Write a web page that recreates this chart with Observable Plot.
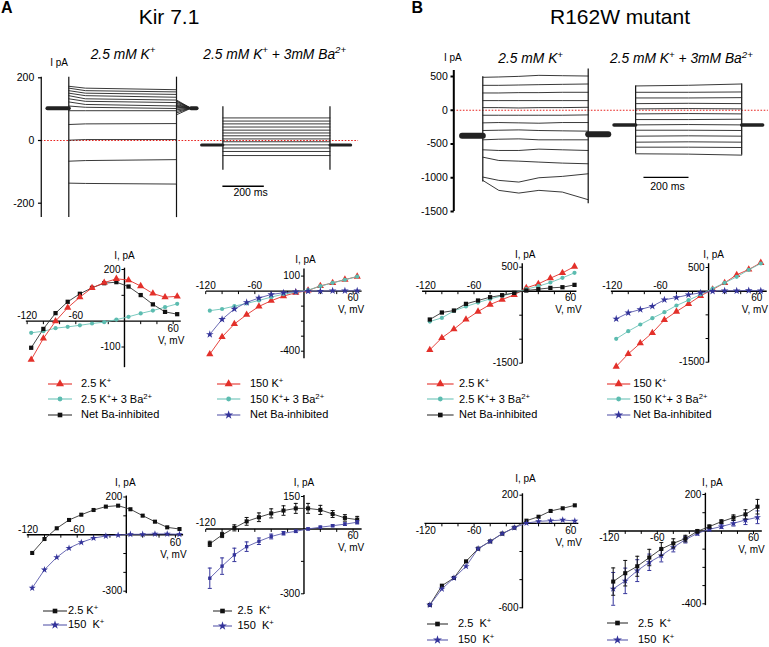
<!DOCTYPE html>
<html><head><meta charset="utf-8">
<script src="https://cdn.jsdelivr.net/npm/d3@7"></script>
<script src="https://cdn.jsdelivr.net/npm/@observablehq/plot@0.6"></script>
<style>
html,body{margin:0;padding:0;background:#fff;}
#fig{position:relative;width:769px;height:647px;overflow:hidden;font-family:"Liberation Sans",Arial,sans-serif;color:#000;background:#fff;}
#fig svg.layer{position:absolute;left:0;top:0;background:transparent !important;overflow:visible;}
.t{position:absolute;white-space:nowrap;line-height:1;}
.t sup{font-size:0.7em;vertical-align:0;position:relative;top:-0.55em;}
</style></head><body><div id="fig"></div>
<script>
// ---------------- DATA ----------------
const V = [-115, -100, -85, -70, -55, -40, -25, -10, 5, 20, 35, 50, 65]; // mV

// A, middle-left (2.5 mM K+)
const aK25    = [-149, -67, 0, 52, 93, 129, 149, 164, 159, 136, 107, 93, 96];
const aK25Ba  = [-45, -39, -27, -22, -16, -9, -4, 6, 17, 30, 41, 54, 67];
const aK25Net = [-103, -30, 31, 75, 106, 129, 147, 151, 134, 101, 65, 36, 27];
// A, middle-right (150 mM K+)
const aK150    = [-420, -305, -219, -157, -102, -64, -33, -11, 4, 35, 55, 77, 97];
const aK150Ba  = [-130, -119, -100, -82, -62, -40, -20, -7, 7, 33, 55, 75, 97];
const aK150Net = [-288, -188, -119, -75, -46, -22, -11, -4, 0, 0, 2, 2, 2];
// B, middle-left
const bK25    = [-1222, -972, -792, -590, -424, -278, -174, -76, 69, 153, 271, 382, 514];
const bK25Ba  = [-632, -556, -410, -319, -236, -160, -97, -35, 42, 104, 181, 278, 382];
const bK25Net = [-590, -444, -403, -264, -194, -125, -83, -35, 14, 42, 69, 83, 132];
// B, middle-right
const bK150    = [-1592, -1324, -1099, -880, -606, -430, -268, -99, 35, 176, 345, 458, 599];
const bK150Ba  = [-1007, -845, -704, -570, -444, -303, -190, -70, 56, 176, 303, 451, 585];
const bK150Net = [-585, -458, -387, -317, -183, -134, -77, -35, 0, 7, 7, 14, 7];
// A, bottom-left (single cell)
const aCmp25  = [-97, -23, 34, 78, 106, 131, 149, 154, 135, 101, 69, 39, 30];
const aCmp150 = [-283, -186, -120, -71, -41, -18, -7, -2, 2, 2, 4, 4, 2];
// A, bottom-right (mean ± SEM)
const aMean25  = [-69, -28, 5, 35, 54, 72, 85, 95, 95, 88, 69, 51, 43];
const aSem25   = [12, 12, 14, 18, 20, 21, 22, 23, 23, 21, 16, 15, 15];
const aMean150 = [-228, -172, -120, -82, -57, -35, -20, -11, 0, 8, 15, 22, 31];
const aSem150  = [47, 38, 31, 22, 15, 11, 8, 6, 5, 5, 5, 6, 8];
// B, bottom-left
const bCmp25  = [-580, -443, -388, -270, -180, -128, -73, -31, 19, 47, 88, 107, 128];
const bCmp150 = [-580, -466, -388, -305, -180, -128, -73, -31, 2, 14, 19, 24, 17];
// B, bottom-right (mean ± SEM)
const bMean25  = [-278, -232, -194, -146, -99, -68, -42, -2, 24, 51, 73, 91, 133];
const bSem25   = [75, 70, 55, 45, 35, 25, 18, 10, 8, 10, 15, 25, 40];
const bMean150 = [-318, -274, -218, -172, -135, -90, -48, -13, 9, 24, 42, 60, 75];
const bSem150  = [90, 70, 60, 45, 35, 25, 18, 10, 8, 10, 15, 25, 35];

// Current traces, Kir 7.1 (pA); times in ms
const a1Times = [0, 80, 520];
const a1Start = [173, 167, 159, 151, 143, 133, 123, 110, 95, 51, 1, -66, -136];
const a1Mid   = [167, 159, 151, 143, 133, 125, 115, 106, 95, 53, 3, -64, -137];
const a1End   = [162, 155, 147, 138, 129, 121, 110, 102, 95, 54, 3, -61, -139];
const a1TailTimes = [520, 590];
const a1Tail  = [129, 126, 123, 119, 115, 112, 109, 106, 103, 98, 93, 88, 82];
const a1Hold  = 103;
const a2Times = [0, 517];
const a2Level = [72, 62, 53, 43, 33, 24, 15, 5, -4, -14, -24, -35, -48];
const a2Hold  = -14;
// Current traces, R162W (pA)
const b1Times = [0, 71, 160, 249, 353, 468];
const b1Sweeps = [
  [488, 493, 502, 517, 512, 507],
  [369, 369, 374, 379, 384, 389],
  [256, 256, 261, 261, 266, 266],
  [143, 143, 143, 143, 143, 143],
  [39, 39, 34, 39, 39, 44],
  [-74, -74, -74, -74, -74, -69],
  [-187, -182, -187, -192, -182, -182],
  [-300, -296, -291, -300, -305, -310],
  [-438, -429, -424, -438, -438, -438],
  [-586, -596, -596, -576, -586, -596],
  [-695, -744, -754, -768, -783, -793],
  [-990, -1039, -1064, -1000, -980, -941],
  [-1039, -1187, -1227, -1187, -1212, -1325]
];
const b1HoldPre = -378, b1HoldPost = -355;
const b2Times = [0, 235, 471];
const b2Start = [360, 266, 182, 98, 20, -54, -138, -217, -296, -384, -473, -547, -645];
const b2Mid   = [370, 266, 182, 103, 25, -49, -138, -212, -296, -379, -468, -547, -650];
const b2End   = [389, 271, 187, 98, 20, -54, -133, -217, -300, -384, -473, -552, -665];
const b2Hold  = -217;

// ---------------- STYLE / LAYOUT ----------------
const W = 769, H = 647;
const FONT = '"Liberation Sans", Arial, sans-serif';
const TICK_FS = 10;
const RED = "#e3302a", TEAL = "#5cbcb0", BLACK = "#111111", BLUE = "#33339a";
const LINE = {[RED]: "#e3302a", [TEAL]: "#6cc4b8", [BLACK]: "#333333", [BLUE]: "#5a5aac"};
const fig = document.getElementById("fig");

const tickDown = {draw(c, s) {const l = Math.sqrt(s / Math.PI); c.moveTo(0, 0); c.lineTo(0, l);}};
const tickLeft = {draw(c, s) {const l = Math.sqrt(s / Math.PI); c.moveTo(0, 0); c.lineTo(-l, 0);}};
const capH = {draw(c, s) {const l = Math.sqrt(s / Math.PI); c.moveTo(-l, 0); c.lineTo(l, 0);}};

function layer(opts) {
  const svg = Plot.plot({
    width: W, height: H, margin: 0,
    style: {background: "transparent", overflow: "visible", fontFamily: FONT, fontSize: "10px"},
    ...opts
  });
  svg.classList.add("layer");
  svg.style.background = "transparent";
  fig.appendChild(svg);
}

function label(html, x, baseline, size, o = {}) {
  const d = document.createElement("div");
  d.className = "t";
  d.innerHTML = html;
  d.style.fontSize = size + "px";
  d.style.left = x + "px";
  d.style.top = (baseline - 0.847 * size) + "px";
  if (o.center) d.style.transform = "translateX(-50%)";
  if (o.bold) d.style.fontWeight = "bold";
  if (o.italic) d.style.fontStyle = "italic";
  fig.appendChild(d);
}

const X_TICKS = [-120, -100, -80, -60, -40, -20, 20, 40, 60];

function ivPanel(p) {
  const below = p.belowDy ?? 11;
  const marks = [
    Plot.ruleY([0], {x1: p.xLine[0], x2: p.xLine[1], stroke: "#000", strokeWidth: 1.4}),
    Plot.ruleX([0], {y1: p.yLine[0], y2: p.yLine[1], stroke: "#000", strokeWidth: 1.4}),
    Plot.dot(X_TICKS, {x: d => d, y: 0, symbol: tickDown, r: 3, stroke: "#000", fill: "none", strokeWidth: 1}),
    Plot.dot(p.yTicks, {x: 0, y: d => d, symbol: tickLeft, r: 3, stroke: "#000", fill: "none", strokeWidth: 1}),
    Plot.text(p.xAbove, {x: d => d, y: 0, text: d => String(d), dy: p.aboveDy ?? -2, lineAnchor: "bottom", fontSize: TICK_FS}),
    Plot.text(p.xBelow, {x: d => d, y: 0, text: d => String(d), dy: below, lineAnchor: "bottom", fontSize: TICK_FS}),
    Plot.text(p.yLabels, {x: 0, y: d => d, text: d => String(d), dx: -4, textAnchor: "end", fontSize: TICK_FS}),
    Plot.text(["I, pA"], {x: 0, y: p.yLine[1], text: d => d, dx: p.iDx, dy: p.iDy, lineAnchor: "bottom", fontSize: TICK_FS}),
    Plot.text(["V, mV"], {x: 60, y: 0, text: d => d, dx: -2, dy: below + 12, lineAnchor: "bottom", fontSize: TICK_FS})
  ];
  for (const s of p.series) {
    const data = V.map((v, i) => ({v, i: s.y[i], e: s.err ? s.err[i] : 0}));
    if (s.err) {
      marks.push(Plot.ruleX(data, {x: "v", y1: d => d.i - d.e, y2: d => d.i + d.e, stroke: s.c, strokeWidth: 1}));
      marks.push(Plot.dot(data, {x: "v", y: d => d.i - d.e, symbol: capH, r: 2, stroke: s.c, fill: "none", strokeWidth: 1}));
      marks.push(Plot.dot(data, {x: "v", y: d => d.i + d.e, symbol: capH, r: 2, stroke: s.c, fill: "none", strokeWidth: 1}));
    }
    marks.push(Plot.line(data, {x: "v", y: "i", stroke: LINE[s.c], strokeWidth: 0.9}));
    marks.push(Plot.dot(data, {x: "v", y: "i", symbol: s.s, r: s.r, fill: s.c, stroke: "none"}));
  }
  layer({
    x: {domain: [V[0], V[V.length - 1]], range: p.xr, axis: null},
    y: {domain: p.yd, range: p.yr, axis: null},
    marks
  });
}

const panels = [
  {xr: [30.7, 176.7], yd: [-100, 200], yr: [346.5, 269], xLine: [-121, 70], yLine: [-180, 205],
   yTicks: [200, 100, -100], yLabels: [200, -100], xAbove: [-120, -60], xBelow: [60], iDx: 0, iDy: -9.5,
   series: [{y: aK25Ba, c: TEAL, s: "circle", r: 2.1}, {y: aK25Net, c: BLACK, s: "square", r: 2.4}, {y: aK25, c: RED, s: "triangle", r: 2.7}]},
  {xr: [209.3, 356.7], yd: [-400, 100], yr: [350.7, 275.6], xLine: [-119, 71], yLine: [-450, 148],
   yTicks: [100, -100, -200, -300, -400], yLabels: [100, -400], xAbove: [-120, -60], xBelow: [60], iDx: 1.5, iDy: -6, belowDy: 10,
   series: [{y: aK150, c: RED, s: "triangle", r: 2.7}, {y: aK150Ba, c: TEAL, s: "circle", r: 2.1}, {y: aK150Net, c: BLUE, s: "star", r: 2.4}]},
  {xr: [429.3, 574], yd: [-1500, 500], yr: [362.7, 266.7], xLine: [-124, 68], yLine: [-1510, 570],
   yTicks: [500, -500, -1000, -1500], yLabels: [500, -1500], xAbove: [-120, -60], xBelow: [60], iDx: 3, iDy: -6, belowDy: 10,
   series: [{y: bK25, c: RED, s: "triangle", r: 2.7}, {y: bK25Ba, c: TEAL, s: "circle", r: 2.1}, {y: bK25Net, c: BLACK, s: "square", r: 2.4}]},
  {xr: [615.7, 760.3], yd: [-1500, 500], yr: [361.7, 267], xLine: [-121, 73], yLine: [-1514, 580],
   yTicks: [500, -500, -1000, -1500], yLabels: [500, -1500], xAbove: [-120, -60], xBelow: [60], iDx: 5, iDy: -6, belowDy: 10,
   series: [{y: bK150, c: RED, s: "triangle", r: 2.7}, {y: bK150Ba, c: TEAL, s: "circle", r: 2.1}, {y: bK150Net, c: BLUE, s: "star", r: 2.4}]},
  {xr: [31.7, 179], yd: [-300, 200], yr: [590.7, 496.5], xLine: [-121, 70], yLine: [-313, 205],
   yTicks: [200, 100, -100, -200, -300], yLabels: [200, -300], xAbove: [-120, -60], xBelow: [60], iDx: -1, iDy: -10,
   series: [{y: aCmp25, c: BLACK, s: "square", r: 2.3}, {y: aCmp150, c: BLUE, s: "star", r: 2.2}]},
  {xr: [209.3, 356.7], yd: [-300, 150], yr: [593.3, 496], xLine: [-119, 71], yLine: [-303, 155],
   yTicks: [150, -150, -300], yLabels: [150, -300], xAbove: [-120], xBelow: [60], iDx: 0, iDy: -9, aboveDy: -3, belowDy: 10,
   series: [{y: aMean25, err: aSem25, c: BLACK, s: "square", r: 2.3}, {y: aMean150, err: aSem150, c: BLUE, s: "square", r: 1.9}]},
  {xr: [429.3, 574.3], yd: [-600, 200], yr: [607.3, 494.7], xLine: [-121, 70], yLine: [-607, 210],
   yTicks: [200, -200, -400, -600], yLabels: [200, -600], xAbove: [], xBelow: [-120, -60, 60], iDx: 3, iDy: -12, belowDy: 11,
   series: [{y: bCmp25, c: BLACK, s: "square", r: 2.3}, {y: bCmp150, c: BLUE, s: "star", r: 2.2}]},
  {xr: [612.7, 757], yd: [-400, 200], yr: [603.3, 494], xLine: [-120, 71], yLine: [-410, 207],
   yTicks: [200, 100, -100, -200, -300, -400], yLabels: [200, -400], xAbove: [], xBelow: [-120, -60, 60], iDx: 7, iDy: -7, belowDy: 10.5,
   series: [{y: bMean150, err: bSem150, c: BLUE, s: "star", r: 2.2}, {y: bMean25, err: bSem25, c: BLACK, s: "square", r: 2.3}]}
];
panels.forEach(ivPanel);

// ---------------- TRACES ----------------
function tracePanel(t) {
  const marks = [
    Plot.ruleY([0], {x1: t.zero[0], x2: t.zero[1], stroke: "#e8231f", strokeWidth: 1, strokeDasharray: "1.6,1.6"}),
    Plot.ruleX([t.axisT], {y1: t.axisY[0], y2: t.axisY[1], stroke: "#000", strokeWidth: t.axisW}),
    Plot.dot(t.ticks, {x: t.axisT, y: d => d, symbol: tickLeft, r: 3.3, stroke: "#000", fill: "none", strokeWidth: t.axisW}),
    Plot.text(t.ticks, {x: t.axisT, y: d => d, text: d => String(d), dx: t.labDx, textAnchor: "end", fontSize: 10.5}),
    Plot.text(["I pA"], {x: t.axisT, y: t.axisY[1], text: d => d, dx: t.ipDx, dy: t.ipDy, textAnchor: t.ipAnchor, lineAnchor: "bottom", fontSize: 10}),
    Plot.ruleY([t.bar.y], {x1: t.bar.t[0], x2: t.bar.t[1], stroke: "#000", strokeWidth: 1.3}),
    Plot.text(["200 ms"], {x: (t.bar.t[0] + t.bar.t[1]) / 2, y: t.bar.y, text: d => d, dx: t.bar.dx, dy: t.bar.dy, lineAnchor: "bottom", fontSize: 10.5}),
    Plot.ruleX(t.transients, {x: "t", y1: "lo", y2: "hi", stroke: "#111", strokeWidth: 1.2}),
    Plot.line(t.sweeps, {x: "t", y: "i", z: "k", stroke: "#222", strokeWidth: 0.9}),
    Plot.line(t.holds, {x: "t", y: "i", z: "k", stroke: "#222", strokeWidth: "w"})
  ];
  layer({
    x: {domain: t.xd, range: t.xr, axis: null},
    y: {domain: t.yd, range: t.yr, axis: null},
    marks
  });
}

// Kir 7.1 traces
{
  const off = 744;
  const sweeps = [], holds = [];
  a1Start.forEach((_, k) => {
    const lv = [a1Start[k], a1Mid[k], a1End[k]];
    a1Times.forEach((tt, j) => sweeps.push({k: "a1-" + k, t: tt, i: lv[j]}));
    sweeps.push({k: "a1-" + k, t: a1TailTimes[0], i: a1Tail[k]});
    sweeps.push({k: "a1-" + k, t: a1TailTimes[1], i: a1Hold});
  });
  a2Level.forEach((lv, k) => a2Times.forEach(tt => sweeps.push({k: "a2-" + k, t: off + tt, i: lv})));
  holds.push({k: "h1", t: -103, i: a1Hold, w: 4}, {k: "h1", t: 0, i: a1Hold, w: 4});
  holds.push({k: "h2", t: 590, i: a1Hold, w: 4}, {k: "h2", t: 617, i: a1Hold, w: 4});
  holds.push({k: "h3", t: off - 103, i: a2Hold, w: 3}, {k: "h3", t: off, i: a2Hold, w: 3});
  holds.push({k: "h4", t: off + 517, i: a2Hold, w: 3}, {k: "h4", t: off + 617, i: a2Hold, w: 3});
  tracePanel({
    xd: [0, 520], xr: [68.3, 176], yd: [-200, 200], yr: [202.7, 77.3],
    zero: [-133, 1399], axisT: -133, axisY: [-246, 202], axisW: 1.2,
    ticks: [200, 0, -200], labDx: -7,
    ipDx: 9, ipDy: -11.5, ipAnchor: "start",
    bar: {t: [off, off + 200], y: -146, dx: 7, dy: 10},
    transients: [{t: 0, lo: -246, hi: 202}, {t: 520, lo: -246, hi: 202}, {t: off, lo: -95, hi: 108}, {t: off + 517, lo: -95, hi: 108}],
    sweeps, holds
  });
}
// R162W traces
{
  const off = 678.6;
  const sweeps = [], holds = [];
  b1Sweeps.forEach((row, k) => b1Times.forEach((tt, j) => sweeps.push({k: "b1-" + k, t: tt, i: row[j]})));
  b2Start.forEach((_, k) => {
    const lv = [b2Start[k], b2Mid[k], b2End[k]];
    b2Times.forEach((tt, j) => sweeps.push({k: "b2-" + k, t: off + tt, i: lv[j]}));
  });
  holds.push({k: "h1", t: -92, i: b1HoldPre, w: 6}, {k: "h1", t: 0, i: b1HoldPre, w: 6});
  holds.push({k: "h2", t: 468, i: b1HoldPost, w: 6}, {k: "h2", t: 557, i: b1HoldPost, w: 6});
  holds.push({k: "h3", t: off - 96, i: b2Hold, w: 3.5}, {k: "h3", t: off, i: b2Hold, w: 3.5});
  holds.push({k: "h4", t: off + 471, i: b2Hold, w: 3.5}, {k: "h4", t: off + 564, i: b2Hold, w: 3.5});
  tracePanel({
    xd: [0, 468], xr: [482.3, 587.7], yd: [-1500, 500], yr: [211, 76],
    zero: [-128.8, 1268], axisT: -128.8, axisY: [-1500, 589], axisW: 2,
    ticks: [500, 0, -500, -1000, -1500], labDx: -6,
    ipDx: -1, ipDy: -9, ipAnchor: "middle",
    bar: {t: [off + 37, off + 237], y: -993, dx: 1, dy: 12.6},
    transients: [{t: 0, lo: -1064, hi: 497}, {t: 468, lo: -1384, hi: 611}, {t: off, lo: -645, hi: 360}, {t: off + 471, lo: -665, hi: 389}],
    sweeps, holds
  });
}

// ---------------- TEXT ----------------
label("A", 1, 13.3, 16, {bold: true});
label("B", 411.5, 13.3, 16, {bold: true});
label("Kir 7.1", 169, 23.3, 21, {center: true});
label("R162W mutant", 620, 23.3, 21, {center: true});
label("2.5 mM K<sup>+</sup>", 90.7, 59.3, 13.8, {italic: true});
label("2.5 mM K<sup>+</sup> + 3mM Ba<sup>2+</sup>", 203.3, 59.3, 13.8, {italic: true});
label("2.5 mM K<sup>+</sup>", 498.3, 64, 13.8, {italic: true});
label("2.5 mM K<sup>+</sup> + 3mM Ba<sup>2+</sup>", 610, 64, 13.8, {italic: true});

// ---------------- LEGENDS ----------------
const SYM = {triangle: d3.symbolTriangle, circle: d3.symbolCircle, square: d3.symbolSquare, star: d3.symbolStar};
function legendRow(x0, w, y, color, sym, r, tx, html) {
  const svg = d3.create("svg").attr("width", w + 8).attr("height", 14)
    .style("position", "absolute").style("left", (x0 - 4) + "px").style("top", (y - 7) + "px").style("overflow", "visible");
  svg.append("line").attr("x1", 4).attr("x2", 4 + w).attr("y1", 7).attr("y2", 7).attr("stroke", LINE[color]).attr("stroke-width", 1.1);
  svg.append("path").attr("d", d3.symbol(SYM[sym], Math.PI * r * r)()).attr("transform", `translate(${4 + w / 2},7)`).attr("fill", color);
  fig.appendChild(svg.node());
  label(html, tx, y + 3.8, 11);
}
const midRows = [384, 399.3, 415];
const legMid = [
  {x0: 48, w: 24, tx: 81, items: [[RED, "triangle", 3, "2.5 K<sup>+</sup>"], [TEAL, "circle", 2.4, "2.5 K<sup>+</sup>+ 3 Ba<sup>2+</sup>"], [BLACK, "square", 2.6, "Net Ba-inhibited"]]},
  {x0: 216.7, w: 23.3, tx: 250, items: [[RED, "triangle", 3, "150 K<sup>+</sup>"], [TEAL, "circle", 2.4, "150 K<sup>+</sup>+ 3 Ba<sup>2+</sup>"], [BLUE, "star", 2.8, "Net Ba-inhibited"]]},
  {x0: 426.7, w: 26.6, tx: 459, items: [[RED, "triangle", 3, "2.5 K<sup>+</sup>"], [TEAL, "circle", 2.4, "2.5 K<sup>+</sup>+ 3 Ba<sup>2+</sup>"], [BLACK, "square", 2.6, "Net Ba-inhibited"]]},
  {x0: 606.7, w: 23.3, tx: 633.3, items: [[RED, "triangle", 3, "150 K<sup>+</sup>"], [TEAL, "circle", 2.4, "150 K<sup>+</sup>+ 3 Ba<sup>2+</sup>"], [BLUE, "star", 2.8, "Net Ba-inhibited"]]}
];
legMid.forEach(g => g.items.forEach((it, j) => legendRow(g.x0, g.w, midRows[j], it[0], it[1], it[2], g.tx, it[3])));
const legBot = [
  {x0: 43, w: 24, tx: 68, rows: [610.7, 624.5], items: [[BLACK, "square", 2.6, "2.5 K<sup>+</sup>"], [BLUE, "star", 2.8, "150&nbsp; K<sup>+</sup>"]]},
  {x0: 213, w: 19, tx: 237.5, rows: [610.7, 626], items: [[BLACK, "square", 2.6, "2.5&nbsp; K<sup>+</sup>"], [BLUE, "star", 2.8, "150&nbsp; K<sup>+</sup>"]]},
  {x0: 427, w: 21, tx: 458, rows: [624, 640], items: [[BLACK, "square", 2.6, "2.5&nbsp; K<sup>+</sup>"], [BLUE, "star", 2.8, "150&nbsp; K<sup>+</sup>"]]},
  {x0: 607, w: 21, tx: 638, rows: [623.3, 640], items: [[BLACK, "square", 2.6, "2.5&nbsp; K<sup>+</sup>"], [BLUE, "star", 2.8, "150&nbsp; K<sup>+</sup>"]]}
];
legBot.forEach(g => g.items.forEach((it, j) => legendRow(g.x0, g.w, g.rows[j], it[0], it[1], it[2], g.tx, it[3])));
</script>
</body></html>
